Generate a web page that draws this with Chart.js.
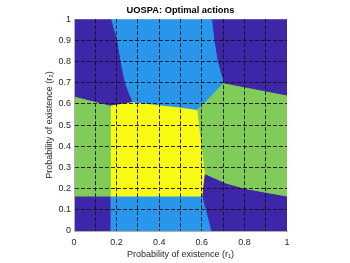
<!DOCTYPE html>
<html>
<head>
<meta charset="utf-8">
<script src="https://cdn.jsdelivr.net/npm/chart.js@4/dist/chart.umd.min.js"></script>
<style>
html,body{margin:0;padding:0;background:#fff;}
#wrap{width:350px;height:263px;}
</style>
</head>
<body>
<div id="wrap"><canvas id="c" width="350" height="263"></canvas></div>
<script>
// ---- Data (region polygons in data coordinates r1, r2) ----
const titleText = 'UOSPA: Optimal actions';
const xTitle = 'Probability of existence (r\u2081)';
const yTitle = 'Probability of existence (r\u2082)';

const xTickLabels = ['0','','0.2','','0.4','','0.6','','0.8','','1'];
const yTickLabels = ['0','0.1','0.2','0.3','0.4','0.5','0.6','0.7','0.8','0.9','1'];

// dark blue, top-left
const topLeftX = [0, 0.172, 0.200, 0.216, 0.236, 0.255, 0.271, 0.169, 0];
const topLeftY = [1, 1, 0.90, 0.80, 0.70, 0.65, 0.610, 0.594, 0.637];
// light blue, top
const topMidX = [0.172, 0.646, 0.657, 0.673, 0.701, 0.607, 0.576, 0.50, 0.40, 0.271, 0.255, 0.236, 0.216, 0.200];
const topMidY = [1, 1, 0.90, 0.80, 0.70, 0.602, 0.574, 0.585, 0.596, 0.610, 0.65, 0.70, 0.80, 0.90];
// dark blue, top-right
const topRightX = [0.646, 1, 1, 0.701, 0.673, 0.657];
const topRightY = [1, 1, 0.642, 0.70, 0.80, 0.90];
// green, left
const midLeftX = [0, 0.169, 0.169, 0];
const midLeftY = [0.637, 0.594, 0.165, 0.165];
// yellow, centre
const centerX = [0.169, 0.271, 0.40, 0.50, 0.576, 0.594, 0.612, 0.600, 0.169];
const centerY = [0.594, 0.610, 0.596, 0.585, 0.574, 0.42, 0.272, 0.165, 0.165];
// green, right
const midRightX = [0.576, 0.607, 0.701, 1, 1, 0.90, 0.803, 0.709, 0.612, 0.594];
const midRightY = [0.574, 0.602, 0.70, 0.642, 0.165, 0.183, 0.201, 0.228, 0.272, 0.42];
// dark blue, bottom-left
const botLeftX = [0, 0.169, 0.169, 0];
const botLeftY = [0, 0, 0.165, 0.165];
// light blue, bottom
const botMidX = [0.169, 0.600, 0.643, 0.169];
const botMidY = [0.165, 0.165, 0, 0];
// dark blue, bottom-right
const botRightX = [0.612, 0.709, 0.803, 0.90, 1, 1, 0.643, 0.600];
const botRightY = [0.272, 0.228, 0.201, 0.183, 0.165, 0, 0, 0.165];

// ---- Styling ----
const C_DARK = 'rgb(62,38,168)';
const C_LIGHT = 'rgb(39,150,235)';
const C_GREEN = 'rgb(129,204,89)';
const C_YELLOW = 'rgb(249,251,21)';

const regions = [
  [topLeftX, topLeftY, C_DARK],
  [topMidX, topMidY, C_LIGHT],
  [topRightX, topRightY, C_DARK],
  [midLeftX, midLeftY, C_GREEN],
  [centerX, centerY, C_YELLOW],
  [midRightX, midRightY, C_GREEN],
  [botLeftX, botLeftY, C_DARK],
  [botMidX, botMidY, C_LIGHT],
  [botRightX, botRightY, C_DARK]
];

const datasets = regions.map(([xs, ys, col]) => {
  const pts = xs.map((x, i) => ({x: x, y: ys[i]}));
  pts.push({x: xs[0], y: ys[0]});
  return {
    data: pts,
    showLine: true,
    fill: 'shape',
    backgroundColor: col,
    borderColor: col,
    borderWidth: 1,
    pointRadius: 0,
    pointHoverRadius: 0,
    tension: 0
  };
});

const FONT = "'Liberation Sans', Arial, Helvetica, sans-serif";
const gridColor = (ctx) => {
  const v = ctx.tick ? ctx.tick.value : null;
  if (v === null || Math.abs(v) < 1e-9 || Math.abs(v - 1) < 1e-9) return 'rgba(0,0,0,0)';
  return 'rgba(20,20,20,0.9)';
};

new Chart(document.getElementById('c'), {
  type: 'scatter',
  data: { datasets: datasets },
  options: {
    responsive: false,
    devicePixelRatio: 1,
    animation: false,
    events: [],
    layout: { padding: { left: 0, right: 63, top: 0, bottom: 0 } },
    plugins: {
      legend: { display: false },
      tooltip: { enabled: false },
      title: {
        display: true,
        text: titleText,
        fullSize: false,
        color: '#000',
        font: { family: FONT, size: 9.3, weight: 'bold' },
        padding: { top: 5, bottom: 3 }
      }
    },
    scales: {
      x: {
        type: 'linear',
        min: 0, max: 1,
        afterFit: (s) => { s.height = 32; },
        afterBuildTicks: (s) => { s.ticks = xTickLabels.map((_, i) => ({ value: i / 10 })); },
        ticks: {
          autoSkip: false,
          maxRotation: 0,
          padding: 6,
          color: '#262626',
          font: { family: FONT, size: 9 },
          callback: (v, i) => xTickLabels[i]
        },
        grid: { color: gridColor, lineWidth: 1, drawTicks: false, z: 1 },
        border: { display: true, color: '#b0b0b0', dash: [4, 2], z: 1 },
        title: {
          display: true,
          text: xTitle,
          color: '#262626',
          font: { family: FONT, size: 9 },
          padding: { top: 0, bottom: 3 }
        }
      },
      y: {
        type: 'linear',
        min: 0, max: 1,
        afterFit: (s) => { s.width = 74; },
        afterBuildTicks: (s) => { s.ticks = yTickLabels.map((_, i) => ({ value: i / 10 })); },
        ticks: {
          autoSkip: false,
          padding: 3,
          color: '#262626',
          font: { family: FONT, size: 9 },
          callback: (v, i) => yTickLabels[i]
        },
        grid: { color: gridColor, lineWidth: 1, drawTicks: false, z: 1 },
        border: { display: true, color: '#b0b0b0', dash: [4, 2], z: 1 },
        title: {
          display: true,
          text: yTitle,
          color: '#262626',
          font: { family: FONT, size: 9 },
          padding: { top: 44, bottom: 0 }
        }
      }
    }
  }
});
</script>
</body>
</html>
